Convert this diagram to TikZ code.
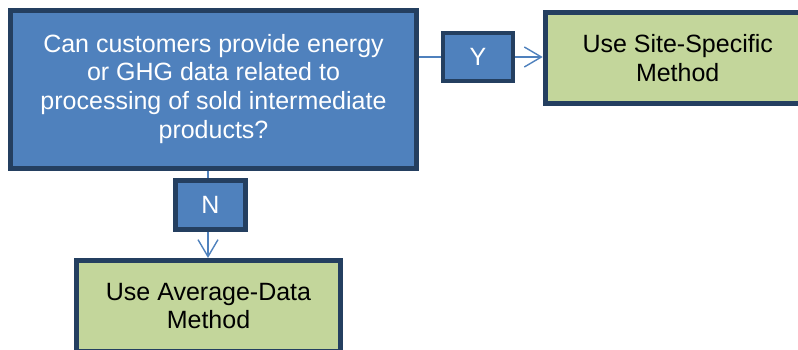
\documentclass[tikz,border=0pt]{standalone}
\usepackage{fontspec}
\setmainfont{Liberation Sans}
\usetikzlibrary{arrows.meta}
\definecolor{navy}{HTML}{243F60}
\definecolor{qblue}{HTML}{4F81BD}
\definecolor{qgreen}{HTML}{C3D69B}
\tikzset{
  boxbase/.style={draw=navy, line width=5pt, inner sep=0pt, align=center,
    font=\fontsize{25}{28.6}\selectfont},
  question/.style={boxbase, fill=qblue, text=white},
  answer/.style={boxbase, fill=qgreen, text=black},
  tag/.style={boxbase, line width=4.5pt, fill=qblue, text=white},
  link/.style={draw=qblue, line width=1.4pt},
  arrowlink/.style={link, -{Straight Barb[length=17pt,width=20pt,line width=1.4pt]}}
}
\begin{document}
\begin{tikzpicture}[x=1pt, y=-1pt]
  \useasboundingbox (0,0) rectangle (798,350);
  \clip (0,0) rectangle (798,350);

  % decision box
  \node[question, minimum width=406pt, minimum height=158pt] (main) at (213.5,89.5)
    {\raisebox{-2pt}{\begin{tabular}{@{}c@{}}Can customers provide energy\\or GHG data related to\\processing of sold intermediate\\products?\end{tabular}}};

  % outcome boxes
  \node[answer, minimum width=265pt, minimum height=91pt] (site) at (677.7,58)
    {Use Site-Specific\\Method};
  \node[answer, minimum width=264pt, minimum height=91pt] (avg) at (208.5,306)
    {Use Average-Data\\Method};

  % answer labels
  \node[tag, minimum width=70pt, minimum height=48pt] (yes) at (478,57) {Y};
  \node[tag, minimum width=70pt, minimum height=49pt] (no) at (210.5,205) {N};

  % connectors
  \coordinate (vx) at (208,0);
  \draw[link] (main.east |- yes.west) -- (yes.west);
  \draw[arrowlink] (yes.east) -- (yes.east -| site.west);
  \draw[link] (vx |- main.south) -- (vx |- no.north);
  \draw[arrowlink] (vx |- no.south) -- (vx |- avg.north);
\end{tikzpicture}
\end{document}
